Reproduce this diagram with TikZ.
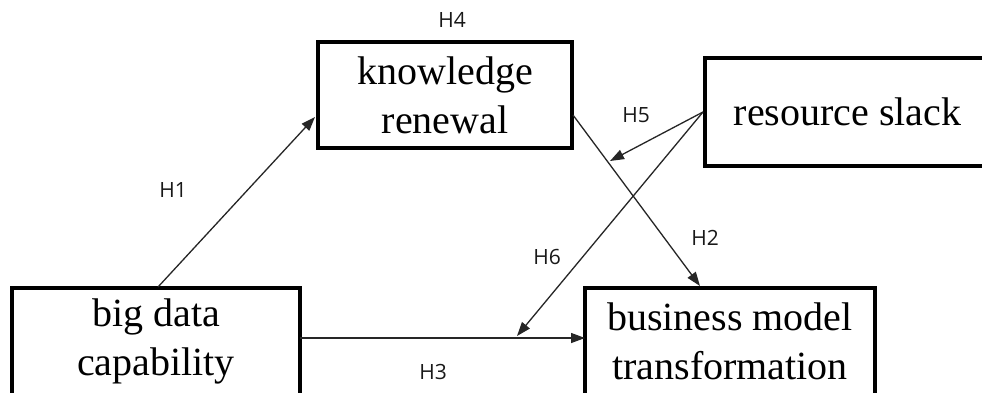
\documentclass[tikz,border=0pt]{standalone}
\usepackage{fontspec}
\setmainfont{Liberation Serif}
\newfontfamily\labelfont{Open Sans}
\usetikzlibrary{arrows.meta}
\tikzset{
  frame/.style={draw=black, line width=3.8pt, fill=white, inner sep=0pt, outer sep=0pt, anchor=north west},
  boxtext/.style={align=center, inner sep=0pt, font=\fontsize{40}{49}\selectfont},
  hyp/.style={font=\labelfont\fontsize{21}{24}\selectfont, text=black!90, inner sep=0pt},
  link/.style={draw=black!85, line width=1.3pt, -{Triangle[length=14pt,width=10pt]}}
}
\begin{document}
\begin{tikzpicture}[x=1pt,y=-1pt]
\useasboundingbox (0,0) rectangle (982,392);
\fill[white] (0,0) rectangle (982,392);
\clip (0,0) rectangle (982,392);
% boxes
\node[frame, minimum width=254pt, minimum height=106pt] (kr) at (318,42) {};
\node[boxtext] (krt) at (kr.center) {knowledge\\renewal};
\node[frame, minimum width=330pt, minimum height=108pt] (rs) at (705,58) {};
\node[boxtext] (rst) at (847.5,112) {resource slack};
\node[frame, minimum width=288pt, minimum height=160pt] (bd) at (12,288) {};
\node[boxtext] (bdt) at (156,341) {big data\\capability};
\node[frame, minimum width=290pt, minimum height=160pt] (bm) at (585,288) {};
\node[boxtext] (bmt) at (730,341) {business model\\transformation};
% connector points
\coordinate (h1s) at (158,287);
\coordinate (h1e) at (315,117);
\coordinate (h2s) at (573,115);
\coordinate (h2e) at (700,286);
\coordinate (h3s) at (300,338);
\coordinate (h3e) at (585,338);
\coordinate (rsL) at (703,112);
\coordinate (h5e) at (610,161);
\coordinate (h6e) at (517,336);
% connectors
\draw[link] (h1s) -- (h1e);
\draw[link] (h2s) -- (h2e);
\draw[link] (h3s) -- (h3e);
\draw[link] (rsL) -- (h5e);
\draw[link] (rsL) -- (h6e);
% labels
\node[hyp] (l4) at (452,20) {H4};
\node[hyp] (l1) at (173,190) {H1};
\node[hyp] (l5) at (636,115) {H5};
\node[hyp] (l2) at (705,238) {H2};
\node[hyp] (l6) at (547,257) {H6};
\node[hyp] (l3) at (433,372) {H3};
\end{tikzpicture}
\end{document}
